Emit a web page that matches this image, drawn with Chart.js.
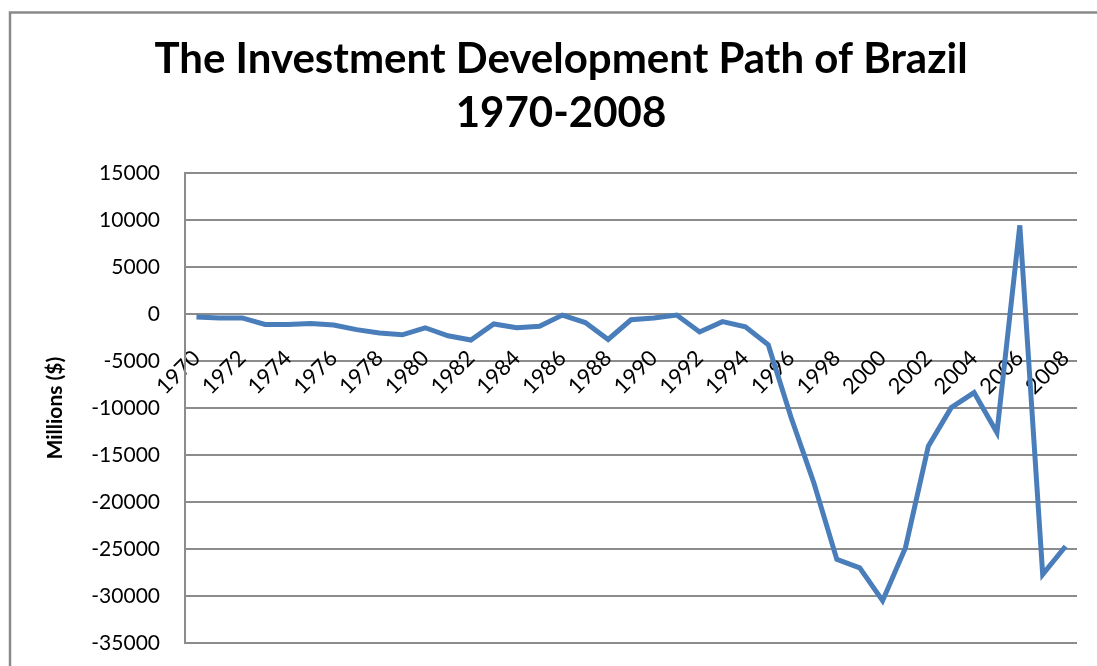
<!DOCTYPE html>
<html>
<head>
<meta charset="utf-8">
<script src="https://cdn.jsdelivr.net/npm/chart.js@4/dist/chart.umd.min.js"></script>
<style>
  html, body { margin: 0; padding: 0; background: #fff; }
  canvas { display: block; }
</style>
</head>
<body>
<canvas id="chart" width="1097" height="666"></canvas>
<script>
  // ── Data (millions of US$) ────────────────────────────────────────────────
  const years = [
    '1970', '1971', '1972', '1973', '1974', '1975', '1976', '1977', '1978', '1979',
    '1980', '1981', '1982', '1983', '1984', '1985', '1986', '1987', '1988', '1989',
    '1990', '1991', '1992', '1993', '1994', '1995', '1996', '1997', '1998', '1999',
    '2000', '2001', '2002', '2003', '2004', '2005', '2006', '2007', '2008'
  ];
  const netOutward = [
    -300, -400, -400, -1100, -1100, -1000, -1150, -1650, -2000, -2200,
    -1450, -2300, -2750, -1050, -1450, -1300, -100, -900, -2700, -600,
    -400, -100, -1900, -800, -1350, -3250, -11000, -18000, -26100, -27000,
    -30500, -24850, -14050, -9950, -8350, -12600, 9450, -27700, -24700
  ];
  const titleLines = ['The Investment Development Path of Brazil', '1970-2008'];
  const yTitle = 'Millions ($)';
  const yMin = -35000, yMax = 15000, yStep = 5000;

  const GRID = '#8c8c8c';
  const LINE = '#4a7ebb';
  const FONT = "Lato, 'Liberation Sans', sans-serif";

  // outer frame of the chart object (runs off the right and bottom edges)
  const framePlugin = {
    id: 'frame',
    afterDraw(chart) {
      const c = chart.ctx;
      c.save();
      c.strokeStyle = '#8a8a8a';
      c.lineWidth = 2.5;
      c.beginPath();
      c.moveTo(10, chart.height);
      c.lineTo(10, 12.5);
      c.lineTo(chart.width, 12.5);
      c.stroke();
      c.restore();
    }
  };

  new Chart(document.getElementById('chart'), {
    type: 'line',
    data: {
      labels: years,
      datasets: [{
        label: 'Net outward investment',
        data: netOutward,
        borderColor: LINE,
        borderWidth: 5,
        pointRadius: 0,
        tension: 0,
        fill: false
      }]
    },
    options: {
      responsive: false,
      animation: false,
      devicePixelRatio: 1,
      // left padding also centres the title where the original has it
      layout: { padding: { left: 45, right: 20, top: 0, bottom: 23 } },
      plugins: {
        legend: { display: false },
        tooltip: { enabled: false },
        title: {
          display: true,
          text: titleLines,
          color: '#000',
          font: { family: FONT, size: 42, weight: 'bold', lineHeight: 1.3 },
          padding: { top: 32, bottom: 32 }
        }
      },
      scales: {
        x: {
          type: 'category',
          position: { y: 0 },
          offset: true,
          grid: { display: false, drawTicks: false },
          border: { display: true, color: GRID, width: 2 },
          ticks: {
            autoSkip: false,
            minRotation: 45,
            maxRotation: 45,
            padding: 31,
            color: '#000',
            font: { family: FONT, size: 22 },
            callback: (v, i) => (i % 2 === 0 ? years[i] : '')
          },
          // labels sit inside the plot, so they must not shrink it
          afterFit(scale) {
            scale.paddingLeft = scale.paddingRight = 0;
            scale.paddingTop = scale.paddingBottom = 0;
          }
        },
        y: {
          min: yMin,
          max: yMax,
          grid: { color: GRID, lineWidth: 2, drawTicks: false },
          border: { display: true, color: GRID, width: 2 },
          ticks: {
            stepSize: yStep,
            padding: 25,
            color: '#000',
            font: { family: FONT, size: 21 },
            callback: v => String(v)
          },
          title: {
            display: true,
            text: yTitle,
            color: '#000',
            font: { family: FONT, size: 21, weight: 'bold', lineHeight: 1 },
            padding: { top: 0, bottom: 0 }
          },
          // fixed width; tick padding must not add space above/below the plot
          afterFit(scale) {
            scale.width = 140;
            scale.paddingTop = scale.paddingBottom = 0;
          }
        }
      }
    },
    plugins: [framePlugin]
  });
</script>
</body>
</html>
